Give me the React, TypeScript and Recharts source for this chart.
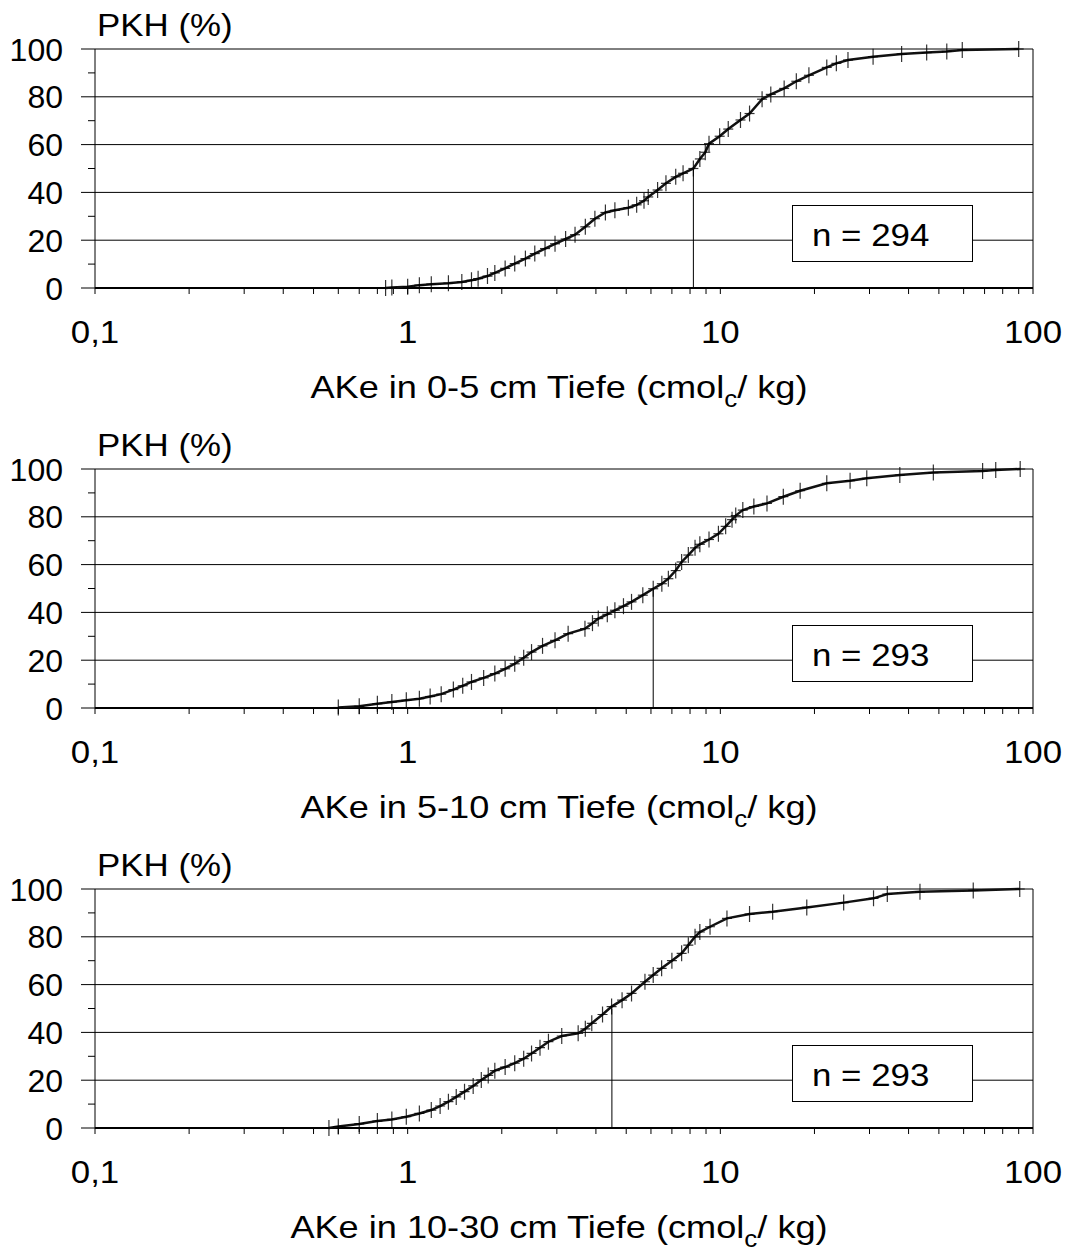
import React from 'react';
import { ComposedChart, Scatter, XAxis, YAxis, ReferenceLine } from 'recharts';

const FONT = '"Liberation Sans", Arial, Helvetica, sans-serif';
const SX = 1.09;

// ---- axis ticks ----
const xTicks = [0.1, 0.2, 0.3, 0.4, 0.5, 0.6, 0.7, 0.8, 0.9, 1, 2, 3, 4, 5, 6, 7, 8, 9, 10, 20, 30, 40, 50, 60, 70, 80, 90, 100];
const xTickLabels: Record<string, string> = { '0.1': '0,1', '1': '1', '10': '10', '100': '100' };
const yTicks = [0, 10, 20, 30, 40, 50, 60, 70, 80, 90, 100];
const gridValues = [20, 40, 60, 80, 100];

// ---- panel 1: 0-5 cm ----
const ake05X = [0.85, 0.89, 1.0, 1.09, 1.19, 1.35, 1.49, 1.6, 1.68, 1.8, 1.9, 2.05, 2.2, 2.38, 2.55, 2.75, 2.96, 3.2, 3.43, 3.7, 3.97, 4.29, 4.6, 5.08, 5.4, 5.7, 5.88, 6.3, 6.7, 7.2, 7.6, 8.2, 8.6, 8.95, 9.2, 9.95, 10.6, 11.6, 12.4, 13.6, 14.5, 16.0, 17.5, 19.2, 21.9, 23.5, 25.6, 30.8, 38.0, 45.7, 53, 59.4, 90];
const ake05Y = [0, 0.2, 0.5, 1.2, 1.6, 2.0, 2.5, 3.2, 3.9, 5.0, 6.3, 8.2, 10.2, 12.3, 14.4, 16.5, 18.5, 20.5, 22.3, 25.6, 29, 31.6, 32.5, 33.6, 34.8, 36.5, 38.1, 41, 43.8, 46.5, 48, 50, 54, 56.8, 60.4, 63.5, 66.5, 70.3, 73, 79, 81, 83.5, 86.5, 89, 92.3, 94, 95.4, 96.8, 97.9, 98.5, 99, 99.6, 100];

// ---- panel 2: 5-10 cm ----
const ake510X = [0.6, 0.7, 0.8, 0.89, 0.99, 1.09, 1.18, 1.28, 1.4, 1.5, 1.6, 1.75, 1.9, 2.05, 2.2, 2.35, 2.49, 2.7, 2.96, 3.26, 3.69, 3.9, 4.07, 4.35, 4.6, 4.9, 5.2, 5.65, 6.1, 6.5, 6.82, 7.2, 7.52, 7.9, 8.3, 8.6, 9.2, 9.86, 10.4, 10.9, 11.2, 11.8, 12.8, 14.1, 15.9, 18.0, 21.9, 26, 29.4, 37.5, 48, 69, 76, 91];
const ake510Y = [0.2, 0.7, 1.8, 2.5, 3.2, 3.9, 4.8, 5.8, 7.7, 9.3, 10.9, 12.6, 14.4, 16.4, 18.5, 21, 23.4, 26, 28.3, 31.1, 33.2, 35.5, 37.4, 39.2, 40.9, 42.6, 44.4, 47.2, 49.9, 52, 54.1, 57.5, 61.1, 64, 67, 68.5, 70.5, 72.9, 76, 78.8, 80.5, 82.8, 84.3, 85.6, 88.4, 90.9, 94, 95.1, 96.1, 97.5, 98.5, 99.2, 99.6, 100];

// ---- panel 3: 10-30 cm ----
const ake1030X = [0.56, 0.6, 0.7, 0.8, 0.89, 0.99, 1.09, 1.19, 1.27, 1.35, 1.43, 1.52, 1.62, 1.72, 1.81, 1.9, 2.05, 2.2, 2.35, 2.49, 2.65, 2.82, 3.11, 3.51, 3.7, 3.88, 4.2, 4.49, 4.85, 5.2, 5.74, 6.1, 6.49, 7.0, 7.52, 7.9, 8.3, 8.6, 9.27, 10.5, 12.4, 14.7, 18.9, 24.8, 30.9, 34.2, 43.5, 64.4, 90.7];
const ake1030Y = [0, 0.6, 1.7, 2.9, 3.6, 4.7, 6.1, 7.5, 9.2, 11, 13, 15.2, 17.6, 20.1, 22, 24, 25.5, 27.1, 29, 31.2, 33.6, 36.1, 38.5, 39.6, 41.5, 43.8, 47.5, 50.8, 53.5, 56.3, 61.2, 64, 66.8, 70, 73.1, 76.5, 80, 82, 84.2, 87.7, 89.5, 90.5, 92.3, 94.3, 96.1, 97.9, 98.8, 99.4, 100];

const panels = [
  { depth: '0-5', n: 294, median: 8.2, xs: ake05X, ys: ake05Y },
  { depth: '5-10', n: 293, median: 6.1, xs: ake510X, ys: ake510Y },
  { depth: '10-30', n: 293, median: 4.5, xs: ake1030X, ys: ake1030Y },
];

const Plus = (props: any) => {
  const { cx, cy } = props;
  if (cx == null || cy == null) return null;
  return (
    <g stroke="#000" strokeOpacity={0.8} strokeWidth={1.2}>
      <line x1={cx} y1={cy - 8} x2={cx} y2={cy + 8} />
      <line x1={cx - 5} y1={cy} x2={cx + 5} y2={cy} />
    </g>
  );
};

const SText = ({ x, y, anchor, size = 32, sx = SX, children }: any) => (
  <text
    transform={`translate(${x},${y}) scale(${sx},1)`}
    x={0}
    y={0}
    textAnchor={anchor}
    fontSize={size}
    fontFamily={FONT}
    fill="#000"
  >
    {children}
  </text>
);

const XTick = (props: any) => {
  const { x, y, payload } = props;
  const lbl = xTickLabels[String(payload.value)];
  if (!lbl) return null;
  return <SText x={x} y={y + 49} anchor="middle">{lbl}</SText>;
};

const YTick = (props: any) => {
  const { x, y, payload } = props;
  const v = payload.value;
  const major = v % 20 === 0;
  return (
    <g>
      <line x1={x - (major ? 14 : 7)} x2={x} y1={y} y2={y} stroke="#000" strokeWidth={1} />
      {major && <SText x={x - 32} y={y + 11.5} anchor="end" sx={1.0}>{String(v)}</SText>}
    </g>
  );
};

function Panel({ depth, n, median, xs, ys }: any) {
  const data = xs.map((x: number, i: number) => ({ x, y: ys[i] }));
  const title = (p: any) => {
    const vb = p.viewBox || { x: 95, y: 288, width: 938 };
    const cx = vb.x + vb.width / 2 - 5;
    const by = vb.y + 110;
    return (
      <text
        transform={`translate(${cx},${by}) scale(1.13,1)`}
        textAnchor="middle"
        fontSize={32}
        fontFamily={FONT}
        fill="#000"
      >
        {`AKe in ${depth} cm Tiefe (cmol`}
        <tspan fontSize={23} dy={9}>c</tspan>
        <tspan fontSize={32} dy={-9}>/ kg)</tspan>
      </text>
    );
  };
  const yLabel = (p: any) => {
    const vb = p.viewBox || { x: 0, y: 49 };
    return <SText x={97} y={vb.y - 13} anchor="start">PKH (%)</SText>;
  };
  return (
    <div style={{ position: 'relative', width: 1068, height: 420 }}>
      <ComposedChart width={1068} height={420} margin={{ top: 49, right: 35, bottom: 0, left: 0 }}>
        <XAxis
          type="number"
          dataKey="x"
          scale="log"
          domain={[0.1, 100]}
          ticks={xTicks}
          interval={0}
          allowDataOverflow
          height={132}
          tickSize={6}
          tickMargin={0}
          tickLine={{ stroke: '#000', strokeWidth: 1 }}
          axisLine={{ stroke: '#000', strokeWidth: 2 }}
          tick={<XTick />}
          label={{ content: title }}
        />
        <YAxis
          type="number"
          dataKey="y"
          domain={[0, 100]}
          ticks={yTicks}
          interval={0}
          width={95}
          tickSize={0}
          tickMargin={0}
          tickLine={false}
          axisLine={{ stroke: '#000', strokeWidth: 1 }}
          tick={<YTick />}
          label={{ content: yLabel }}
        />
        {gridValues.map((v) => (
          <ReferenceLine key={v} y={v} stroke="#000" strokeWidth={1} />
        ))}
        <ReferenceLine x={100} stroke="#000" strokeWidth={1} />
        <ReferenceLine
          segment={[{ x: median, y: 0 }, { x: median, y: 50 }]}
          stroke="#000"
          strokeWidth={1}
        />
        <Scatter
          data={data}
          dataKey="y"
          line={{ stroke: '#111', strokeWidth: 2.5 }}
          shape={<Plus />}
          isAnimationActive={false}
        />
      </ComposedChart>
      <div
        style={{
          position: 'absolute',
          left: 792,
          top: 205,
          width: 179,
          height: 55,
          border: '1px solid #000',
          background: '#fff',
          fontFamily: FONT,
          fontSize: 32,
          lineHeight: '32px',
        }}
      >
        <span
          style={{
            position: 'absolute',
            left: 19,
            top: 13,
            display: 'inline-block',
            transform: `scale(${SX},1)`,
            transformOrigin: 'left top',
            whiteSpace: 'nowrap',
          }}
        >
          {`n = ${n}`}
        </span>
      </div>
    </div>
  );
}

export default function App() {
  return (
    <div style={{ position: 'absolute', left: 0, top: 0, width: 1068, height: 1251, background: '#fff' }}>
      {panels.map((p) => (
        <Panel key={p.depth} {...p} />
      ))}
    </div>
  );
}
